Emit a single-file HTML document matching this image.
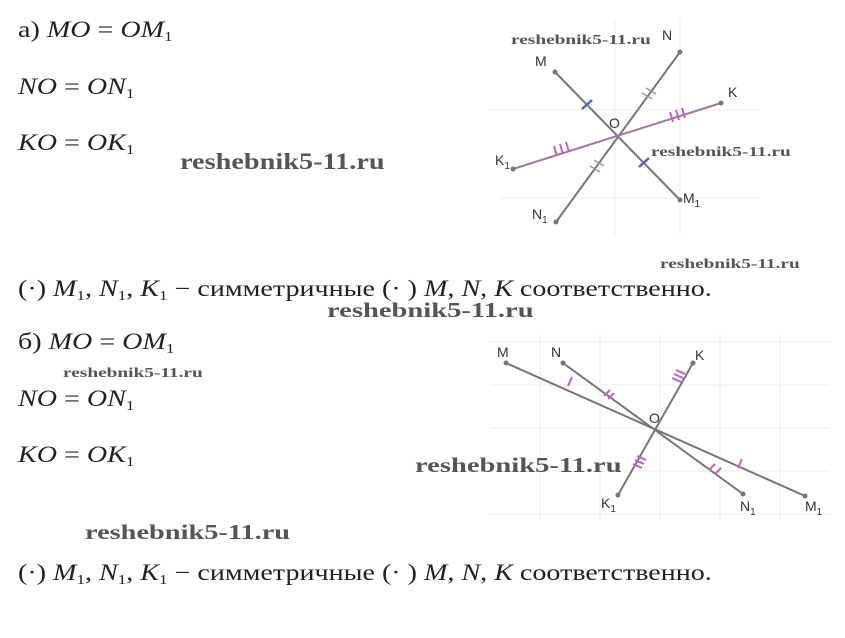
<!DOCTYPE html>
<html><head><meta charset="utf-8"><style>
body{margin:0;width:845px;height:638px;background:#fff;position:relative;overflow:hidden;font-family:"Liberation Serif","DejaVu Serif",serif;}
.t{position:absolute;font-size:23px;color:#222;white-space:nowrap;line-height:1;transform:scaleX(1.22);transform-origin:0 0;}
i{font-style:italic}
sub{font-size:14px;vertical-align:-4px}
.w{position:absolute;font-family:"Liberation Serif",serif;font-weight:bold;color:#555;white-space:nowrap;line-height:1;transform-origin:0 0}
svg{position:absolute;left:0;top:0}
</style></head><body>
<div class="t" style="left:18px;top:18px">а) <i>MO</i> = <i>OM</i><sub>1</sub></div>
<div class="t" style="left:18px;top:75px"><i>NO</i> = <i>ON</i><sub>1</sub></div>
<div class="t" style="left:18px;top:131px"><i>KO</i> = <i>OK</i><sub>1</sub></div>
<div class="t" style="left:18px;top:277px">(·) <i>M</i><sub>1</sub>, <i>N</i><sub>1</sub>, <i>K</i><sub>1</sub> − симметричные (· ) <i>M</i>, <i>N</i>, <i>K</i> соответственно.</div>
<div class="t" style="left:18px;top:330px">б) <i>MO</i> = <i>OM</i><sub>1</sub></div>
<div class="t" style="left:18px;top:387px"><i>NO</i> = <i>ON</i><sub>1</sub></div>
<div class="t" style="left:18px;top:443px"><i>KO</i> = <i>OK</i><sub>1</sub></div>
<div class="t" style="left:18px;top:561px">(·) <i>M</i><sub>1</sub>, <i>N</i><sub>1</sub>, <i>K</i><sub>1</sub> − симметричные (· ) <i>M</i>, <i>N</i>, <i>K</i> соответственно.</div>

<svg width="845" height="638" font-family="Liberation Sans,sans-serif" font-size="14" fill="#444">
<g stroke="#eee" stroke-width="1">
<line x1="490" y1="110" x2="760" y2="110"/><line x1="500" y1="198" x2="760" y2="198"/>
<line x1="615" y1="20" x2="615" y2="235"/><line x1="680" y1="20" x2="680" y2="235"/>
<line x1="490" y1="342" x2="830" y2="342"/><line x1="490" y1="385" x2="830" y2="385"/><line x1="490" y1="428" x2="830" y2="428"/><line x1="490" y1="471" x2="830" y2="471"/><line x1="490" y1="514" x2="830" y2="514"/>
<line x1="540" y1="335" x2="540" y2="520"/><line x1="600" y1="335" x2="600" y2="520"/><line x1="660" y1="335" x2="660" y2="520"/><line x1="720" y1="335" x2="720" y2="520"/><line x1="780" y1="335" x2="780" y2="520"/>
</g>
<g stroke="#777" stroke-width="2">
<line x1="555" y1="72" x2="680" y2="200"/><line x1="680" y1="52" x2="556" y2="222"/>
<line x1="506" y1="363" x2="805" y2="496"/><line x1="563" y1="363" x2="743" y2="494"/><line x1="693" y1="363" x2="618" y2="495"/>
</g>
<g stroke="#a07aa0" stroke-width="2"><line x1="721" y1="103" x2="513" y2="169"/></g>
<g fill="#777"><circle cx="555" cy="72" r="2.5"/><circle cx="680" cy="200" r="2.5"/><circle cx="680" cy="52" r="2.5"/><circle cx="556" cy="222" r="2.5"/><circle cx="721" cy="103" r="2.5"/><circle cx="513" cy="169" r="2.5"/>
<circle cx="506" cy="363" r="2.5"/><circle cx="805" cy="496" r="2.5"/><circle cx="563" cy="363" r="2.5"/><circle cx="743" cy="494" r="2.5"/><circle cx="693" cy="363" r="2.5"/><circle cx="618" cy="495" r="2.5"/></g>
<g stroke="#5560c0" stroke-width="2.5"><line x1="582" y1="109" x2="592" y2="100"/><line x1="639" y1="167" x2="649" y2="158"/></g>
<g stroke="#999" stroke-width="1.5" fill="none"><path d="M642 93 l10 6 M646 88 l10 6 M590 166 l10 6 M594 160 l10 6"/></g>
<g stroke="#c060c0" stroke-width="2"><path d="M670 112 l3 10 M676 110 l3 10 M682 108 l3 10 M554 146 l3 10 M560 144 l3 10 M566 142 l3 10"/>
<path d="M568 386 l4 -9 M604 396 l6 -6 M608 399 l6 -6 M672 378 l9 4 M674 374 l9 4 M676 370 l9 4 M633 464 l9 4 M635 460 l9 4 M637 456 l9 4 M709 470 l6 -6 M715 474 l6 -6 M738 468 l4 -9"/></g>
<g fill="#333"><text x="535" y="66">M</text><text x="662" y="40">N</text><text x="728" y="97">K</text><text x="609" y="128">O</text><text x="495" y="165">K<tspan font-size="10" dy="4">1</tspan></text><text x="683" y="203">M<tspan font-size="10" dy="4">1</tspan></text><text x="532" y="219">N<tspan font-size="10" dy="4">1</tspan></text>
<text x="497" y="357">M</text><text x="551" y="357">N</text><text x="695" y="360">K</text><text x="649" y="423">O</text><text x="601" y="508">K<tspan font-size="10" dy="4">1</tspan></text><text x="740" y="511">N<tspan font-size="10" dy="4">1</tspan></text><text x="805" y="511">M<tspan font-size="10" dy="4">1</tspan></text></g>
</svg>
<div class="w" style="left:180px;top:150px;font-size:23px;transform:scaleX(1.23)">reshebnik5-11.ru</div>
<div class="w" style="left:511px;top:34px;font-size:14px;transform:scaleX(1.38)">reshebnik5-11.ru</div>
<div class="w" style="left:651px;top:146px;font-size:14px;transform:scaleX(1.38)">reshebnik5-11.ru</div>
<div class="w" style="left:660px;top:258px;font-size:14px;transform:scaleX(1.38)">reshebnik5-11.ru</div>
<div class="w" style="left:327px;top:300px;font-size:21px;transform:scaleX(1.36)">reshebnik5-11.ru</div>
<div class="w" style="left:63px;top:367px;font-size:14px;transform:scaleX(1.38)">reshebnik5-11.ru</div>
<div class="w" style="left:415px;top:455px;font-size:21px;transform:scaleX(1.36)">reshebnik5-11.ru</div>
<div class="w" style="left:85px;top:522px;font-size:21px;transform:scaleX(1.35)">reshebnik5-11.ru</div>
</body></html>
